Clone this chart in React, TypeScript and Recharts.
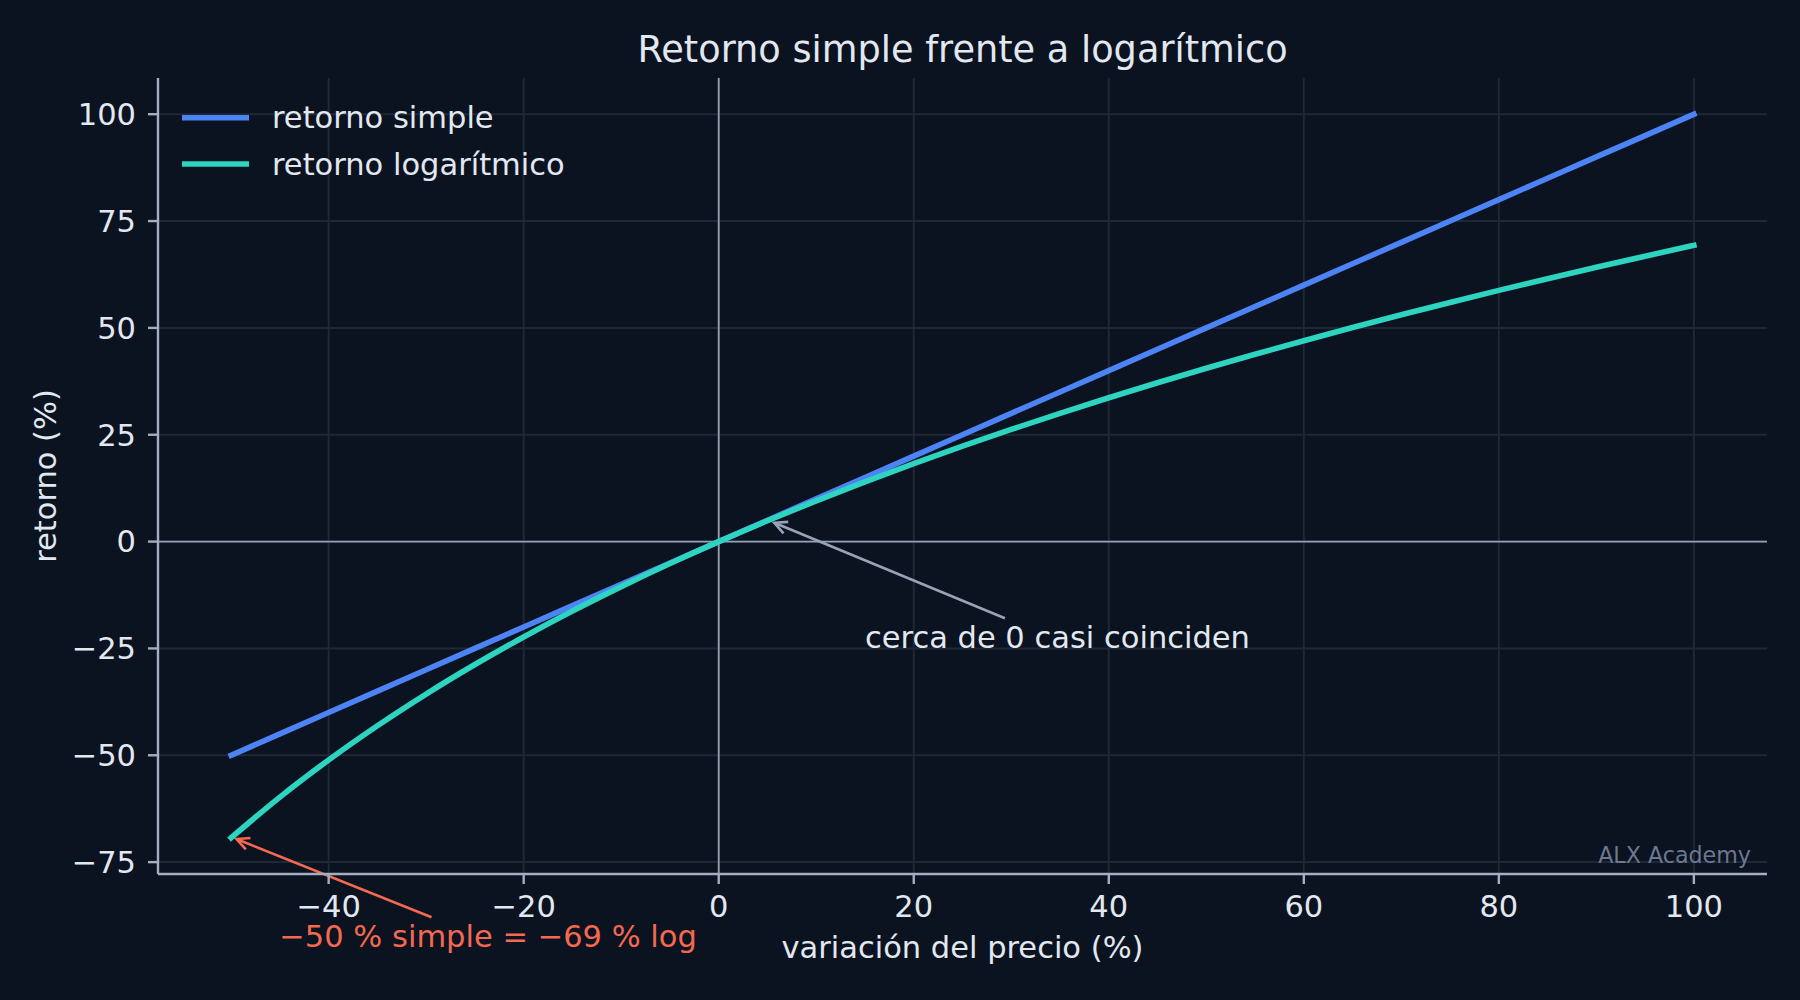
import React from 'react';
import {
  LineChart,
  Line,
  XAxis,
  YAxis,
  CartesianGrid,
  Legend,
  ReferenceLine,
  ReferenceDot,
} from 'recharts';

const priceChange = [
  -50, -45, -40, -35, -30, -25, -20, -15, -10, -5, 0, 5, 10, 15, 20, 25, 30, 35, 40, 45, 50, 55, 60, 65,
  70, 75, 80, 85, 90, 95, 100,
];
const simpleReturn = [
  -50, -45, -40, -35, -30, -25, -20, -15, -10, -5, 0, 5, 10, 15, 20, 25, 30, 35, 40, 45, 50, 55, 60, 65,
  70, 75, 80, 85, 90, 95, 100,
];
const logReturn = [
  -69.31, -59.78, -51.08, -43.08, -35.67, -28.77, -22.31, -16.25, -10.54, -5.13, 0, 4.88, 9.53, 13.98,
  18.23, 22.31, 26.24, 30.01, 33.65, 37.16, 40.55, 43.83, 47.0, 50.08, 53.06, 55.96, 58.78, 61.52, 64.19,
  66.78, 69.31,
];

const xTicks = [-40, -20, 0, 20, 40, 60, 80, 100];
const yTicks = [-75, -50, -25, 0, 25, 50, 75, 100];
const xDomain = [-57.5, 107.5];
const yDomain = [-77.78, 108.47];

const seriesNames = ['retorno simple', 'retorno logarítmico'];

// annotations, in data units
const nearZeroArrow = [
  { x: 29.35, y: -17.95 },
  { x: 5.7, y: 4.4 },
];
const nearZeroText = { x: 15, y: -25, text: 'cerca de 0 casi coinciden' };
const lossArrow = [
  { x: -29.45, y: -87.9 },
  { x: -49.45, y: -69.6 },
];
const lossText = { x: -23.65, y: -94.9, text: '\u221250 % simple = \u221269 % log' };

const data = priceChange.map((x, i) => ({
  x,
  simple: simpleReturn[i],
  log: logReturn[i],
}));

const FONT = '"DejaVu Sans", sans-serif';
const BG = '#0b1220';
const GRID = '#1e2836';
const SPINE = '#a3aec2';
const TEXT = '#e2e8f0';
const BLUE = '#4d84f5';
const TEAL = '#2dd4bf';
const ORANGE = '#f4694f';
const ARROW_GRAY = '#98a3b6';

const fmt = (v: number) => (v < 0 ? `\u2212${-v}` : `${v}`);

const arrowShape = (color: string) => (props: any) => {
  const { x1, y1, x2, y2 } = props;
  const a = Math.atan2(y2 - y1, x2 - x1);
  const arm = 14;
  const sp = 0.46;
  const p1 = [x2 - arm * Math.cos(a - sp), y2 - arm * Math.sin(a - sp)];
  const p2 = [x2 - arm * Math.cos(a + sp), y2 - arm * Math.sin(a + sp)];
  return (
    <g>
      <line x1={x1} y1={y1} x2={x2} y2={y2} stroke={color} strokeWidth={2.6} />
      <polyline
        points={`${p1[0]},${p1[1]} ${x2},${y2} ${p2[0]},${p2[1]}`}
        fill="none"
        stroke={color}
        strokeWidth={2.6}
      />
    </g>
  );
};

const textShape = (text: string, color: string, anchor: 'start' | 'middle') => (props: any) => (
  <text x={props.cx} y={props.cy} fill={color} fontSize={30.5} fontFamily={FONT} textAnchor={anchor}>
    {text}
  </text>
);

const LegendBox = () => (
  <svg width={700} height={200}>
    {seriesNames.map((name, i) => (
      <g key={name}>
        <line
          x1={182}
          x2={249}
          y1={117.7 + i * 46.3}
          y2={117.7 + i * 46.3}
          stroke={i === 0 ? BLUE : TEAL}
          strokeWidth={5.6}
        />
        <text x={272} y={128.3 + i * 46.3} fill={TEXT} fontSize={30.5} fontFamily={FONT}>
          {name}
        </text>
      </g>
    ))}
  </svg>
);

export default function App() {
  return (
    <div style={{ position: 'absolute', left: 0, top: 0, width: 1800, height: 1000, background: BG }}>
      <LineChart
        width={1800}
        height={1000}
        data={data}
        margin={{ top: 78, right: 33, bottom: 66, left: 10 }}
      >
        <CartesianGrid stroke={GRID} strokeWidth={2} syncWithTicks />
        <XAxis
          dataKey="x"
          type="number"
          domain={xDomain}
          ticks={xTicks}
          interval={0}
          height={60}
          tickFormatter={fmt}
          tick={{ fill: TEXT, fontSize: 30.5, fontFamily: FONT }}
          tickSize={10}
          tickMargin={11}
          axisLine={{ stroke: SPINE, strokeWidth: 2.4 }}
          tickLine={{ stroke: SPINE, strokeWidth: 2.4 }}
          label={{
            content: ({ viewBox }: any) => (
              <text
                x={viewBox.x + viewBox.width / 2}
                y={viewBox.y + 83.5}
                fill={TEXT}
                fontSize={30.5}
                fontFamily={FONT}
                textAnchor="middle"
              >
                variación del precio (%)
              </text>
            ),
          }}
        />
        <YAxis
          type="number"
          domain={yDomain}
          ticks={yTicks}
          interval={0}
          width={148}
          tickFormatter={fmt}
          tick={{ fill: TEXT, fontSize: 30.5, fontFamily: FONT }}
          tickSize={10}
          tickMargin={12}
          axisLine={{ stroke: SPINE, strokeWidth: 2.4 }}
          tickLine={{ stroke: SPINE, strokeWidth: 2.4 }}
          label={{
            content: ({ viewBox }: any) => {
              const cx = viewBox.x + 46;
              const cy = viewBox.y + viewBox.height / 2;
              return (
                <text
                  x={cx}
                  y={cy}
                  transform={`rotate(-90 ${cx} ${cy})`}
                  fill={TEXT}
                  fontSize={30.5}
                  fontFamily={FONT}
                  textAnchor="middle"
                >
                  retorno (%)
                </text>
              );
            },
          }}
        />
        <ReferenceLine x={0} stroke="#94a0b4" strokeWidth={1.8} />
        <ReferenceLine y={0} stroke="#94a0b4" strokeWidth={1.8} />
        <Line
          dataKey="simple"
          name={seriesNames[0]}
          type="linear"
          stroke={BLUE}
          strokeWidth={5.6}
          strokeLinecap="square"
          dot={false}
          activeDot={false}
          isAnimationActive={false}
        />
        <Line
          dataKey="log"
          name={seriesNames[1]}
          type="monotone"
          stroke={TEAL}
          strokeWidth={5.6}
          strokeLinecap="square"
          dot={false}
          activeDot={false}
          isAnimationActive={false}
        />
        <ReferenceLine segment={nearZeroArrow} ifOverflow="visible" shape={arrowShape(ARROW_GRAY)} />
        <ReferenceLine segment={lossArrow} ifOverflow="visible" shape={arrowShape(ORANGE)} />
        <ReferenceDot
          x={nearZeroText.x}
          y={nearZeroText.y}
          ifOverflow="visible"
          shape={textShape(nearZeroText.text, TEXT, 'start')}
        />
        <ReferenceDot
          x={lossText.x}
          y={lossText.y}
          ifOverflow="visible"
          shape={textShape(lossText.text, ORANGE, 'middle')}
        />
        <Legend
          layout="horizontal"
          verticalAlign="middle"
          content={() => <LegendBox />}
          wrapperStyle={{ left: 0, top: 0, width: 700, height: 200 }}
        />
      </LineChart>
      <svg
        width={1800}
        height={1000}
        style={{ position: 'absolute', left: 0, top: 0, pointerEvents: 'none' }}
      >
        <text x={962.5} y={62} fill={TEXT} fontSize={36.7} fontFamily={FONT} textAnchor="middle">
          Retorno simple frente a logarítmico
        </text>
        <text x={1751} y={862.7} fill="#6b7890" fontSize={22.2} fontFamily={FONT} textAnchor="end">
          ALX Academy
        </text>
      </svg>
    </div>
  );
}
